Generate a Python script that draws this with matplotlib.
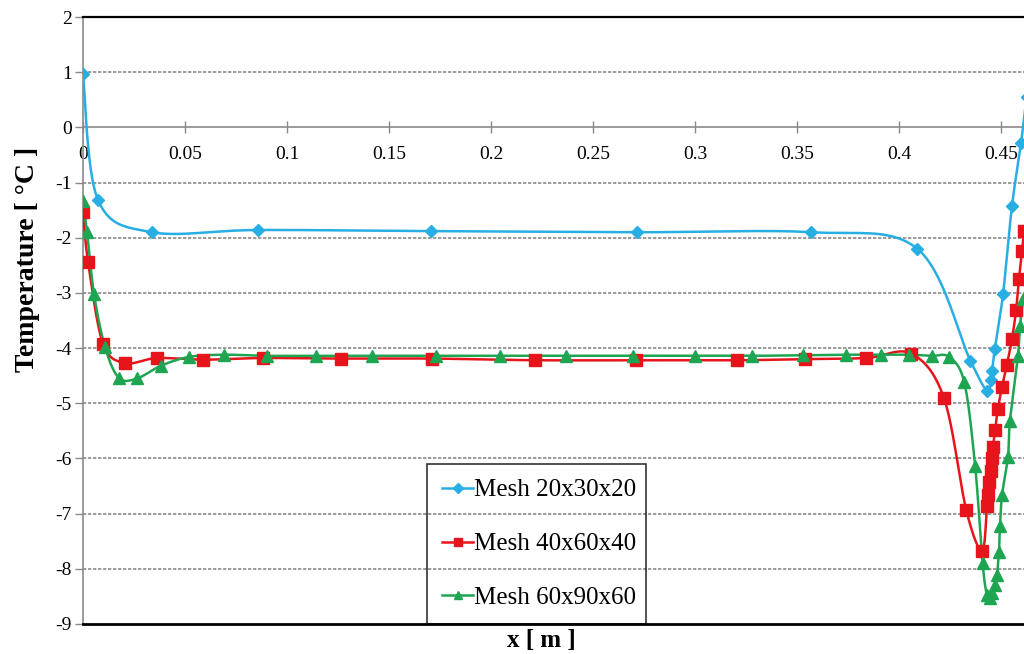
import numpy as np
import matplotlib.pyplot as plt

# Temperature along x for three mesh resolutions
x_20 = [0.0, 0.0074, 0.0338, 0.0858, 0.1706, 0.2716, 0.357, 0.409, 0.435,
        0.4431, 0.4451, 0.4456, 0.447, 0.451, 0.4554, 0.4598, 0.4625]
t_20 = [0.96, -1.32, -1.90, -1.86, -1.88, -1.90, -1.90, -2.20, -4.23,
        -4.77, -4.58, -4.42, -4.01, -3.02, -1.42, -0.29, 0.55]

x_40 = [0.0, 0.0025, 0.0098, 0.0206, 0.0363, 0.0590, 0.0884, 0.1265, 0.171,
        0.2216, 0.271, 0.3206, 0.354, 0.384, 0.406, 0.422, 0.433, 0.4407,
        0.4431, 0.4436, 0.4441, 0.4451, 0.4456, 0.4461, 0.4471, 0.4485,
        0.4505, 0.4529, 0.4554, 0.4574, 0.4588, 0.4603, 0.4613]
t_40 = [-1.54, -2.44, -3.92, -4.27, -4.18, -4.21, -4.18, -4.19, -4.19,
        -4.22, -4.22, -4.22, -4.20, -4.18, -4.10, -4.90, -6.94, -7.67,
        -6.87, -6.67, -6.42, -6.22, -6.00, -5.79, -5.48, -5.10,
        -4.70, -4.30, -3.83, -3.31, -2.75, -2.24, -1.88]

x_60 = [0.0, 0.0020, 0.0054, 0.0108, 0.0176, 0.0265, 0.0382, 0.052, 0.069,
        0.090, 0.114, 0.1417, 0.173, 0.2044, 0.237, 0.2696, 0.300, 0.328,
        0.353, 0.374, 0.391, 0.405, 0.416, 0.4245, 0.432, 0.4373, 0.441,
        0.4431, 0.4446, 0.4456, 0.4471, 0.448, 0.449, 0.4495, 0.4505,
        0.4534, 0.4544, 0.4583, 0.4593, 0.4608]
t_60 = [-1.33, -1.90, -3.02, -3.98, -4.54, -4.55, -4.32, -4.16, -4.12,
        -4.14, -4.14, -4.14, -4.14, -4.14, -4.14, -4.14, -4.14, -4.14,
        -4.13, -4.12, -4.12, -4.12, -4.14, -4.16, -4.62, -6.13, -7.90,
        -8.48, -8.53, -8.44, -8.30, -8.12, -7.69, -7.22, -6.67,
        -5.97, -5.32, -4.14, -3.60, -3.11]

labels = ['Mesh 20x30x20', 'Mesh 40x60x40', 'Mesh 60x90x60']
colors = ['#27aee3', '#e8141b', '#1ea552']
markers = ['D', 's', '^']
msizes = [6.5, 8, 8]

y_ticks = list(range(-9, 3))
x_ticks = [0, 0.05, 0.1, 0.15, 0.2, 0.25, 0.3, 0.35, 0.4, 0.45]
x_ticklabels = ['0', '0.05', '0.1', '0.15', '0.2', '0.25', '0.3', '0.35', '0.4', '0.45']


def smooth(x, y, sx=37.0, n=24):
    # spreadsheet-style smoothed line: cubic Bezier with 1/6 tangents
    p = np.column_stack([np.asarray(x, float) * sx, np.asarray(y, float)])
    ext = np.vstack([p[0], p, p[-1]])
    t = np.linspace(0, 1, n)[:, None]
    segs = []
    for i in range(len(p) - 1):
        p0, p1, p2, p3 = ext[i], ext[i + 1], ext[i + 2], ext[i + 3]
        c1 = p1 + (p2 - p0) / 6
        c2 = p2 - (p3 - p1) / 6
        segs.append((1 - t)**3 * p1 + 3 * (1 - t)**2 * t * c1
                    + 3 * (1 - t) * t**2 * c2 + t**3 * p2)
    pts = np.vstack(segs)
    return pts[:, 0] / sx, pts[:, 1]


plt.rcParams['font.family'] = ['Liberation Serif', 'DejaVu Serif']

fig = plt.figure(figsize=(10.24, 6.54), dpi=100)
ax = fig.add_axes((83 / 1024, 30 / 654, 0.47 * 2040 / 1024, 607 / 654))

for xs, ts, lab, c, m, ms in zip([x_20, x_40, x_60], [t_20, t_40, t_60],
                                 labels, colors, markers, msizes):
    sx_, sy_ = smooth(xs, ts)
    ax.plot(sx_, sy_, color=c, lw=1.8, zorder=3)
    ax.plot(xs, ts, ls='none', marker=m, ms=ms, color=c, zorder=4)
    ax.plot([], [], color=c, lw=1.8, marker=m, ms=ms * 0.75, label=lab)

ax.set_xlim(0, 0.47)
ax.set_ylim(-9, 2)

# y axis and dotted gridlines
ax.set_yticks(y_ticks)
ax.set_yticklabels([str(v) for v in y_ticks])
ax.tick_params(axis='y', direction='out', length=6, width=1, color='#888888',
               labelsize=14, pad=2)
for v in y_ticks[1:-1]:
    if v != 0:
        ax.axhline(v, color='#8a8a8a', lw=1.2, ls=(0, (2, 1)), zorder=1)

# x axis crossing at zero
ax.spines['bottom'].set_position(('data', 0))
ax.spines['bottom'].set_color('#8a8a8a')
ax.spines['bottom'].set_linewidth(1.2)
ax.spines['left'].set_color('#8a8a8a')
ax.spines['left'].set_linewidth(1.2)
ax.spines['right'].set_visible(False)
ax.spines['top'].set_color('black')
ax.spines['top'].set_linewidth(1.6)
ax.axhline(-9, color='black', lw=2.0, zorder=5, clip_on=False)
ax.set_xticks(x_ticks)
ax.set_xticklabels(x_ticklabels)
ax.tick_params(axis='x', direction='inout', length=9, width=1, color='#888888',
               labelsize=14, pad=9)

ax.set_ylabel('Temperature [ °C ]', fontsize=20, fontweight='bold')
ax.yaxis.set_label_coords(-0.045, 0.6)
fig.text(541 / 1024, 1 - 640 / 654, 'x [ m ]', fontsize=18, fontweight='bold',
         ha='center', va='center')

leg = ax.legend(loc='lower left', bbox_to_anchor=(427 / 1024, 30 / 654, 219 / 1024, 167 / 654),
                bbox_transform=fig.transFigure, mode='expand', fontsize=18,
                frameon=True, fancybox=False, handlelength=1.25, handletextpad=0.05,
                borderpad=0.6, labelspacing=1.25, borderaxespad=0)
leg.get_frame().set_edgecolor('black')
leg.get_frame().set_linewidth(1.2)
leg.get_frame().set_facecolor('none')

fig.savefig('out.png', dpi=100)
